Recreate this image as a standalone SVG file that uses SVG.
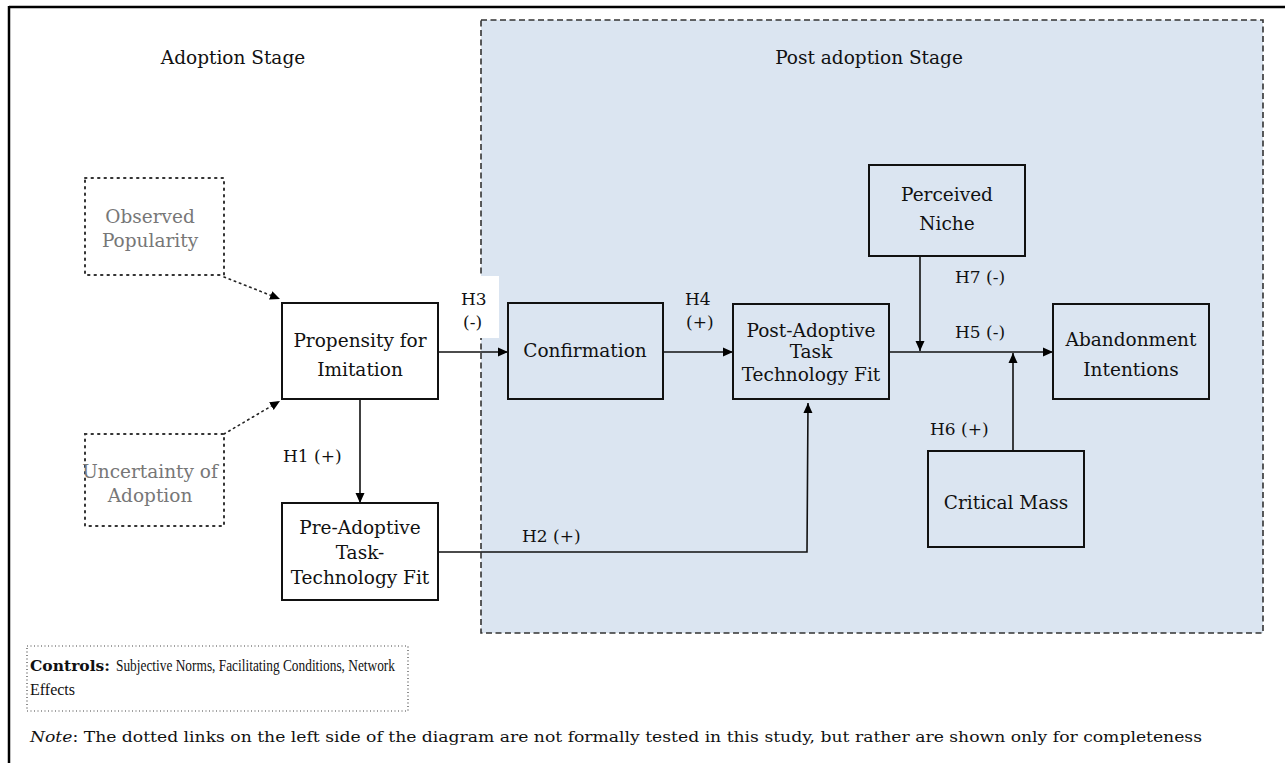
<svg xmlns="http://www.w3.org/2000/svg" width="1285" height="763" viewBox="0 0 1285 763">
<defs>
<marker id="ah" viewBox="0 0 10 10" refX="10" refY="5" markerWidth="10" markerHeight="10" markerUnits="userSpaceOnUse" orient="auto">
<path d="M0,0.5 L10,5 L0,9.5 Z" fill="#000"/>
</marker>
<style>
.t{font-family:"DejaVu Serif","Liberation Serif",serif;font-size:18.5px;fill:#111;text-anchor:middle}
.g{fill:#777}
.lbl{font-family:"DejaVu Serif","Liberation Serif",serif;font-size:17px;fill:#111}
.box{fill:none;stroke:#111;stroke-width:2}
.dbox{fill:none;stroke:#333;stroke-width:2;stroke-dasharray:1.5 5;stroke-linecap:round}
.ln{fill:none;stroke:#111;stroke-width:1.6}
.dl{fill:none;stroke:#222;stroke-width:1.6;stroke-dasharray:1.5 4;stroke-linecap:round}
.ct{font-family:"Liberation Serif",serif;font-size:16px;fill:#111}
</style>
</defs>
<rect width="1285" height="763" fill="#fff"/>
<g id="frame">
<line x1="9" y1="7" x2="1285" y2="7" stroke="#000" stroke-width="2.5"/>
<line x1="9" y1="6" x2="9" y2="763" stroke="#000" stroke-width="2.5"/>
</g>
<g id="post-adoption-region">
<rect x="481" y="20" width="782" height="613" fill="#dbe5f1" stroke="#333" stroke-width="1.6" stroke-dasharray="6 3.5"/>
<text class="t" x="869" y="64">Post adoption Stage</text>
</g>
<g id="adoption-label"><text class="t" x="233" y="64">Adoption Stage</text></g>

<g id="connectors">
<line class="dl" x1="224" y1="277" x2="280" y2="299" marker-end="url(#ah)"/>
<line class="dl" x1="224" y1="434" x2="280" y2="401" marker-end="url(#ah)"/>
<line class="ln" x1="360" y1="399" x2="360" y2="503" marker-end="url(#ah)"/>
<line class="ln" x1="438" y1="352" x2="508" y2="352" marker-end="url(#ah)"/>
<line class="ln" x1="663" y1="352" x2="733" y2="352" marker-end="url(#ah)"/>
<polyline class="ln" points="438,552 807,552 808,403" marker-end="url(#ah)"/>
<line class="ln" x1="889" y1="352" x2="1053" y2="352" marker-end="url(#ah)"/>
<line class="ln" x1="920" y1="256" x2="920" y2="351" marker-end="url(#ah)"/>
<line class="ln" x1="1013" y1="451" x2="1013" y2="353" marker-end="url(#ah)"/>
<rect x="447" y="276" width="52" height="62" fill="#fff"/>
<text class="lbl" x="461" y="305">H3</text>
<text class="lbl" x="463" y="328">(-)</text>
<text class="lbl" x="685" y="305">H4</text>
<text class="lbl" x="686" y="328">(+)</text>
<text class="lbl" x="283" y="462">H1 (+)</text>
<text class="lbl" x="522" y="542">H2 (+)</text>
<text class="lbl" x="955" y="338">H5 (-)</text>
<text class="lbl" x="930" y="435">H6 (+)</text>
<text class="lbl" x="955" y="283">H7 (-)</text>
</g>

<g id="observed-popularity">
<rect class="dbox" x="85" y="178" width="139" height="97"/>
<text class="t g" x="150" y="223">Observed</text>
<text class="t g" x="150" y="247">Popularity</text>
</g>
<g id="uncertainty-of-adoption">
<rect class="dbox" x="85" y="434" width="139" height="92"/>
<text class="t g" x="150" y="478">Uncertainty of</text>
<text class="t g" x="150" y="502">Adoption</text>
</g>
<g id="propensity">
<rect class="box" x="282" y="303" width="156" height="96"/>
<text class="t" x="360" y="347">Propensity for</text>
<text class="t" x="360" y="376">Imitation</text>
</g>
<g id="pre-adoptive">
<rect class="box" x="282" y="503" width="156" height="97"/>
<text class="t" x="360" y="534">Pre-Adoptive</text>
<text class="t" x="360" y="559">Task-</text>
<text class="t" x="360" y="584">Technology Fit</text>
</g>
<g id="confirmation">
<rect class="box" x="508" y="303" width="155" height="96"/>
<text class="t" x="585" y="357">Confirmation</text>
</g>
<g id="post-adoptive">
<rect class="box" x="733" y="304" width="156" height="95"/>
<text class="t" x="811" y="337">Post-Adoptive</text>
<text class="t" x="811" y="358">Task</text>
<text class="t" x="811" y="381">Technology Fit</text>
</g>
<g id="perceived-niche">
<rect class="box" x="869" y="165" width="156" height="91"/>
<text class="t" x="947" y="201">Perceived</text>
<text class="t" x="947" y="230">Niche</text>
</g>
<g id="abandonment">
<rect class="box" x="1053" y="304" width="156" height="95"/>
<text class="t" x="1131" y="346">Abandonment</text>
<text class="t" x="1131" y="376">Intentions</text>
</g>
<g id="critical-mass">
<rect class="box" x="928" y="451" width="156" height="96"/>
<text class="t" x="1006" y="509">Critical Mass</text>
</g>
<g id="controls">
<rect x="27" y="646" width="381" height="65" fill="none" stroke="#444" stroke-width="1.2" stroke-dasharray="1 2.5"/>
<text x="30" y="671" font-family="'DejaVu Serif',serif" font-size="14.5" font-weight="bold" fill="#111" textLength="80" lengthAdjust="spacingAndGlyphs">Controls:</text>
<text class="ct" x="116" y="671" textLength="279" lengthAdjust="spacingAndGlyphs">Subjective Norms, Facilitating Conditions, Network</text>
<text class="ct" x="30" y="695">Effects</text>
</g>
<g id="note">
<text x="30" y="742" font-family="'DejaVu Serif','Liberation Serif',serif" font-size="15" fill="#111" textLength="1172" lengthAdjust="spacingAndGlyphs"><tspan font-style="italic">Note</tspan>: The dotted links on the left side of the diagram are not formally tested in this study, but rather are shown only for completeness</text>
</g>
</svg>
